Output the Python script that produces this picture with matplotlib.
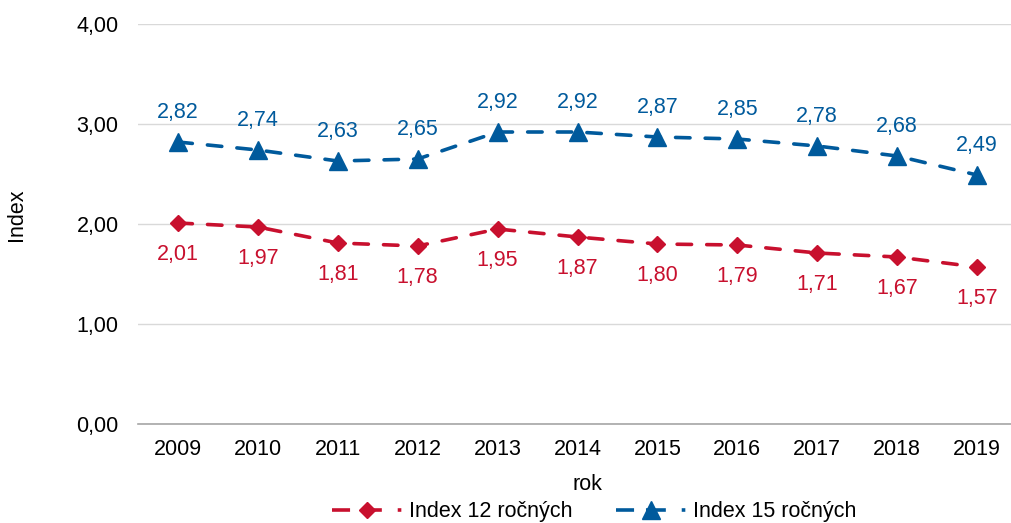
import numpy as np
import matplotlib
matplotlib.use('Agg')
import matplotlib.pyplot as plt
from matplotlib.lines import Line2D

plt.rcParams['font.family'] = ['Liberation Sans', 'DejaVu Sans']

# ------------------------------------------------------------------------------
years = ['2009', '2010', '2011', '2012', '2013', '2014', '2015', '2016',
         '2017', '2018', '2019']
index12 = [2.01, 1.97, 1.81, 1.78, 1.95, 1.87, 1.80, 1.79, 1.71, 1.67, 1.57]
index15 = [2.82, 2.74, 2.63, 2.65, 2.92, 2.92, 2.87, 2.85, 2.78, 2.68, 2.49]
name12 = 'Index 12 ročných'
name15 = 'Index 15 ročných'
yticks = [0, 1, 2, 3, 4]

red = '#C8102E'
blue = '#005A9C'
fs = 15.5


def fmt(v):
    return '{0:.2f}'.format(v).replace('.', ',')


fig = plt.figure(figsize=(10.11, 5.23), dpi=100)
ax = fig.add_axes([138/1011, 99/523, 879/1011, 400/523])

x = np.arange(len(years))
lw = 2.6
ax.plot(x, index12, color=red, lw=lw, dashes=(4, 4.2), marker='D',
        markersize=8, dash_capstyle='round')
ax.plot(x, index15, color=blue, lw=lw, dashes=(4, 4.2), marker='^',
        markersize=12.5, dash_capstyle='round')

for xi, v in zip(x, index12):
    ax.annotate(fmt(v), (xi, v), xytext=(0, -23), textcoords='offset points',
                ha='center', va='center', color=red, fontsize=fs)
for xi, v in zip(x, index15):
    ax.annotate(fmt(v), (xi, v), xytext=(0, 21.5), textcoords='offset points',
                ha='center', va='center', color=blue, fontsize=fs)

ax.set_xlim(-0.5, len(years) - 0.5)
ax.set_ylim(0, 4)
ax.set_xticks(x)
ax.set_xticklabels(years)
ax.set_yticks(yticks)
ax.set_yticklabels([fmt(v) for v in yticks])
ax.tick_params(axis='both', length=0, labelsize=fs, colors='black')
ax.tick_params(axis='y', pad=14)
ax.tick_params(axis='x', pad=11)
ax.grid(axis='y', color='#D9D9D9', lw=1)
ax.set_axisbelow(True)
for s in ['top', 'right', 'left']:
    ax.spines[s].set_visible(False)
ax.spines['bottom'].set_color('#A6A6A6')
ax.spines['bottom'].set_linewidth(1.2)
ax.spines['bottom'].set_zorder(1.5)

fig.text(16/1011, 1 - 215/523, 'Index', rotation=90, ha='center',
         va='center', fontsize=fs)
fig.text(587/1011, 1 - 485/523, 'rok', ha='center', va='center',
         fontsize=fs)

pattern = (5.0, 3.3, 5.5, 4.4, 1.0, 3.0)
h12 = Line2D([], [], color=red, lw=lw, dashes=pattern, marker='D',
             markersize=8)
h15 = Line2D([], [], color=blue, lw=lw, dashes=pattern, marker='^',
             markersize=12.5)
fig.legend([h12, h15], [name12, name15], loc='center',
           bbox_to_anchor=(594/1011, 1 - 512/523), ncol=2, frameon=False,
           fontsize=fs, handlelength=3.25, columnspacing=2.0,
           handletextpad=0.33, borderpad=0)

plt.savefig('out.png', dpi=100)
plt.close()
